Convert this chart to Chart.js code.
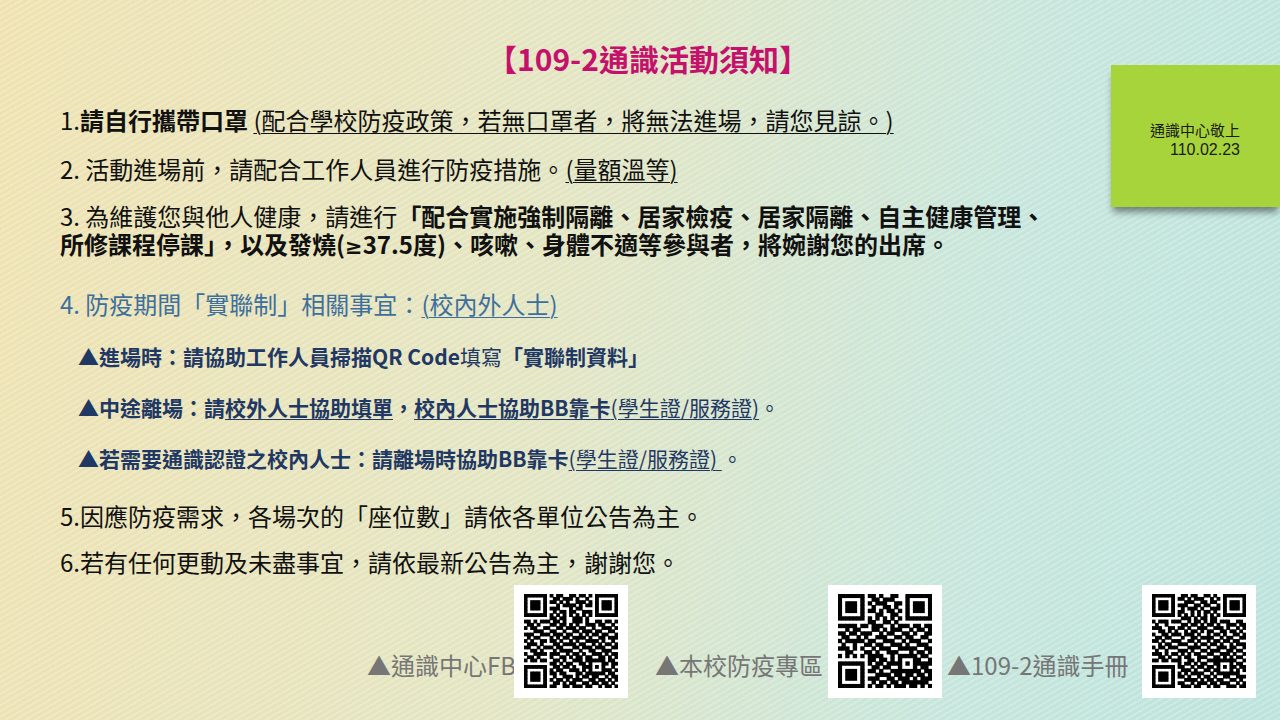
<!DOCTYPE html>
<html lang="zh-Hant">
<head>
<meta charset="utf-8">
<title>109-2通識活動須知</title>
<script src="https://cdn.jsdelivr.net/npm/chart.js@4.4.1/dist/chart.umd.min.js"></script>
<style>
html, body { margin: 0; padding: 0; }
body {
    width: 1280px; height: 720px; position: relative; overflow: hidden;
    font-family: "Noto Sans CJK TC", "Noto Sans", sans-serif;
    background:
        repeating-linear-gradient(150deg, rgba(255,255,255,0.22) 0 2px, rgba(255,255,255,0) 2px 5px),
        linear-gradient(100deg, #efe2b0 0%, #e2e5c3 45%, #c6e6dc 75%, #bce3dc 100%);
}
.line { position: absolute; white-space: nowrap; line-height: 1; }
u { text-decoration-thickness: 1px; text-underline-offset: 3px; }
.title { left: 487px; top: 43px; font-size: 30px; font-weight: bold; color: #c4126c; }
.big { left: 60px; font-size: 24px; color: #111; }
.blue { color: #3e6f9c; }
.bullet { left: 78px; font-size: 21px; font-weight: bold; color: #1f3864; }
.reg { font-weight: normal; }
.latin { font-family: "DejaVu Sans", sans-serif; font-size: 21px; }
.note {
    position: absolute; left: 1111px; top: 65px; width: 169px; height: 142px;
    background: #a8d43b; box-shadow: 0 7px 7px -2px rgba(0,0,0,0.45);
}
.note div { position: absolute; right: 40px; line-height: 1; color: #1a1a1a; white-space: nowrap; }
.label { font-size: 24px; color: #767676; top: 653px; }
.qr { position: absolute; top: 585px; width: 114px; height: 113px; background: #fff; }
.qr canvas { position: absolute; left: 6px; top: 5px; }
</style>
</head>
<body>

<div class="line title">【109-2通識活動須知】</div>

<div class="line big" style="top:108px">1.<b>請自行攜帶口罩</b> <u>(配合學校防疫政策，若無口罩者，將無法進場，請您見諒。)</u></div>
<div class="line big" style="top:157px">2. 活動進場前，請配合工作人員進行防疫措施。<u>(量額溫等)</u></div>
<div class="line big" style="top:204px">3. 為維護您與他人健康，請進行<b>「配合實施強制隔離、居家檢疫、居家隔離、自主健康管理、</b></div>
<div class="line big" style="top:232px"><b>所修課程停課」，以及發燒(<span class="latin">≥</span>37.5度)、咳嗽、身體不適等參與者，將婉謝您的出席。</b></div>

<div class="line big blue" style="top:292px">4. 防疫期間「實聯制」相關事宜：<u>(校內外人士)</u></div>
<div class="line bullet" style="top:346px">▲進場時：請協助工作人員掃描QR Code<span class="reg">填寫</span>「實聯制資料」</div>
<div class="line bullet" style="top:397px">▲中途離場：請<u>校外人士協助填單</u>，<u>校內人士協助BB靠卡<span class="reg">(學生證/服務證)</span></u><span class="reg">。</span></div>
<div class="line bullet" style="top:448px">▲若需要通識認證之校內人士：請離場時協助BB靠卡<u class="reg">(學生證/服務證) </u><span class="reg"> 。</span></div>

<div class="line big" style="top:504px">5.因應防疫需求，各場次的「座位數」請依各單位公告為主。</div>
<div class="line big" style="top:550px">6.若有任何更動及未盡事宜，請依最新公告為主，謝謝您。</div>

<div class="note">
    <div style="top:57px; font-size:15px">通識中心敬上</div>
    <div style="top:77px; font-size:16px; font-family:'Liberation Sans', sans-serif">110.02.23</div>
</div>

<div class="line label" style="left:367px">▲通識中心FB</div>
<div class="qr" style="left:514px"><canvas id="qrFb" width="102" height="102"></canvas></div>
<div class="line label" style="left:655px">▲本校防疫專區</div>
<div class="qr" style="left:828px"><canvas id="qrEpidemic" width="102" height="102"></canvas></div>
<div class="line label" style="left:947px">▲109-2通識手冊</div>
<div class="qr" style="left:1142px"><canvas id="qrHandbook" width="102" height="102"></canvas></div>

<script>
// QR 模組 (1 = 黑), 逐列
const QR_FB = [
    "1111111 0 1011001101101 0 1111111",
    "1000001 0 0110111010010 0 1000001",
    "1011101 0 1101010011101 0 1011101",
    "1011101 0 0010111101011 0 1011101",
    "1011101 0 1110001011000 0 1011101",
    "1000001 0 0101101100111 0 1000001",
    "1111111 0 1010101010101 0 1111111",
    "00000000 1101100111010 00000000",
    "11010111011010011101001101101",
    "01101000110110101001110110010",
    "10110011001101110110010011101",
    "00011100110010011011101100110",
    "11100111011101100101011011001",
    "01011000101011011110100110111",
    "10100110110100101001111010010",
    "01110100011011110110010101101",
    "11001011101100011011101110011",
    "00110100010111100100110011100",
    "10011110111001011010011101011",
    "01101000100110101101100110101",
    "10110110011010011101 11111 0110",
    "00000000 110101100110 10001 1011",
    "1111111 0 011011010011 10101 0010",
    "1000001 0 101100111010 10001 1101",
    "1011101 0 110110001101 11111 0110",
    "1011101 0 010011101011 01100 1011",
    "1011101 0 101101011100 11011 0101",
    "1000001 0 011010110011 01101 1010",
    "1111111 0 110011011101 10010 1101"
];

const QR_EPIDEMIC = [
    "1111111 0 110100110 0 1111111",
    "1000001 0 011011100 0 1000001",
    "1011101 0 101110011 0 1011101",
    "1011101 0 010011010 0 1011101",
    "1011101 0 110101101 0 1011101",
    "1000001 0 001100110 0 1000001",
    "1111111 0 101010101 0 1111111",
    "0000000 0 110011010 0 0000000",
    "1111101101110010111011011",
    "0010110001101011100101101",
    "1101101110010110011010011",
    "0110010100111001101100110",
    "1011111011001110010111001",
    "0100100110110011101001110",
    "1110101001011100111110011",
    "0011000110100111000101101",
    "1010101011110010 11111 0110",
    "00000000 11011010 10001 1001",
    "1111111 0 10110111 10101 1111",
    "1000001 0 01101100 10001 0110",
    "1011101 0 11010011 11111 1011",
    "1011101 0 00111101 10110 1101",
    "1011101 0 11100110 11101 0111",
    "1000001 0 01011011 01111 1110",
    "1111111 0 10110101 11011 0101"
];

const QR_HANDBOOK = [
    "1111111 0 0110110011010 0 1111111",
    "1000001 0 1101011100101 0 1000001",
    "1011101 0 0011100110110 0 1011101",
    "1011101 0 1110011011001 0 1011101",
    "1011101 0 0101110100111 0 1011101",
    "1000001 0 1100101011010 0 1000001",
    "1111111 0 1010101010101 0 1111111",
    "00000000 0111010110110 00000000",
    "10111011100101101011011100110",
    "01001000011011010110100111011",
    "11100110110100111001110100101",
    "00110101001011010110011011010",
    "10011011101110100101101001101",
    "01101100010011011110010110011",
    "11010011100110100101101101100",
    "00101100111001011011010010111",
    "10110111000111100100111011001",
    "01001000111010011011100110110",
    "11101011010101100110011101001",
    "00110100101100111001101010110",
    "11011011100110100111 11111 1001",
    "00000000 101101011001 10001 0110",
    "1111111 0 110010110110 10101 1011",
    "1000001 0 011101001101 10001 0101",
    "1011101 0 101011110010 11111 1100",
    "1011101 0 110100101101 00110 0111",
    "1011101 0 001111010110 11001 1010",
    "1000001 0 110010111011 01110 0101",
    "1111111 0 011101100101 10011 1011"
];

// transforme les lignes en points {x, y}
function toPoints(rows) {
    const pts = [];
    rows.forEach((row, y) => {
        row.replace(/ /g, '').split('').forEach((c, x) => {
            if (c === '1') pts.push({ x: x, y: y });
        });
    });
    return pts;
}

function drawQr(canvasId, rows) {
    const n = rows.length;
    new Chart(document.getElementById(canvasId), {
        type: 'scatter',
        data: {
            datasets: [{
                data: toPoints(rows),
                backgroundColor: '#000',
                borderWidth: 0,
                pointStyle: 'rect',
                pointRadius: function(ctx) {
                    const a = ctx.chart.chartArea;
                    if (!a) return 2;
                    return (Math.min(a.width, a.height) / n + 0.6) / Math.SQRT2;
                }
            }]
        },
        options: {
            responsive: false,
            animation: false,
            events: [],
            layout: { padding: 0 },
            plugins: { legend: { display: false }, tooltip: { enabled: false } },
            scales: {
                x: { type: 'linear', min: -0.5, max: n - 0.5, display: false },
                y: { type: 'linear', min: -0.5, max: n - 0.5, reverse: true, display: false }
            }
        }
    });
}

document.addEventListener('DOMContentLoaded', () => {
    drawQr('qrFb', QR_FB);
    drawQr('qrEpidemic', QR_EPIDEMIC);
    drawQr('qrHandbook', QR_HANDBOOK);
});
</script>
</body>
</html>
